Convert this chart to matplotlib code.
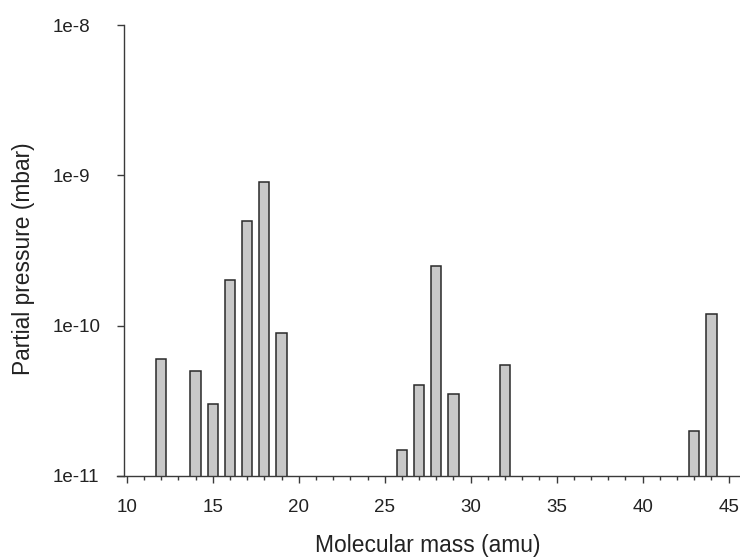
import matplotlib
matplotlib.use("Agg")
import matplotlib.pyplot as plt
from matplotlib.ticker import FixedLocator, MultipleLocator, NullLocator

plt.rcParams['font.family'] = ['Liberation Sans', 'DejaVu Sans']

# data
masses = [12, 14, 15, 16, 17, 18, 19, 26, 27, 28, 29, 32, 43, 44]
pressures = [6e-11, 5e-11, 3e-11, 2e-10, 5e-10, 9e-10, 9e-11,
             1.5e-11, 4e-11, 2.5e-10, 3.5e-11, 5.5e-11, 2e-11, 1.2e-10]
x_ticks = [10, 15, 20, 25, 30, 35, 40, 45]
y_ticks = [1e-11, 1e-10, 1e-9, 1e-8]
y_tick_labels = ['1e-11', '1e-10', '1e-9', '1e-8']

axis_col = '#3a3a3a'
text_col = '#222222'

fig = plt.figure(figsize=(7.4, 5.57), dpi=100)
ax = fig.add_axes([117.3 / 740, 1 - 476 / 557, 622.7 / 740, 451 / 557])

ax.bar(masses, pressures, width=0.6, color='#c8c8c8',
       edgecolor='#2a2a2a', linewidth=1.1, zorder=2)

ax.set_yscale('log')
ax.set_ylim(1e-11, 1e-8)
ax.set_xlim(9.45, 45.66)

# axes styling (SigmaPlot look)
ax.spines['top'].set_visible(False)
ax.spines['right'].set_visible(False)
ax.spines['left'].set_position(('data', 9.84))
for s in ('left', 'bottom'):
    ax.spines[s].set_color(axis_col)
    ax.spines[s].set_linewidth(1.0)
    ax.spines[s].set_zorder(3)

ax.xaxis.set_major_locator(FixedLocator(x_ticks))
ax.xaxis.set_minor_locator(MultipleLocator(1))
ax.yaxis.set_major_locator(FixedLocator(y_ticks))
ax.yaxis.set_minor_locator(NullLocator())
ax.set_yticklabels(y_tick_labels)

ax.tick_params(axis='x', which='major', direction='out', length=4.8,
               width=1.0, color=axis_col, labelsize=13.5, labelcolor=text_col,
               pad=11.5)
ax.tick_params(axis='x', which='minor', direction='out', length=2.9,
               width=1.0, color=axis_col)
ax.tick_params(axis='y', which='major', direction='out', length=4.8,
               width=1.0, color=axis_col, labelsize=13.5, labelcolor=text_col,
               pad=46.3)
for lab in ax.get_yticklabels():
    lab.set_horizontalalignment('left')

ax.set_xlabel('Molecular mass (amu)', fontsize=16.4, color=text_col)
ax.set_ylabel('Partial pressure (mbar)', fontsize=16.4, color=text_col)
ax.xaxis.set_label_coords(0.4985, -0.129)
ax.yaxis.set_label_coords(-0.132, 0.481)

fig.savefig('out.png', dpi=100)
